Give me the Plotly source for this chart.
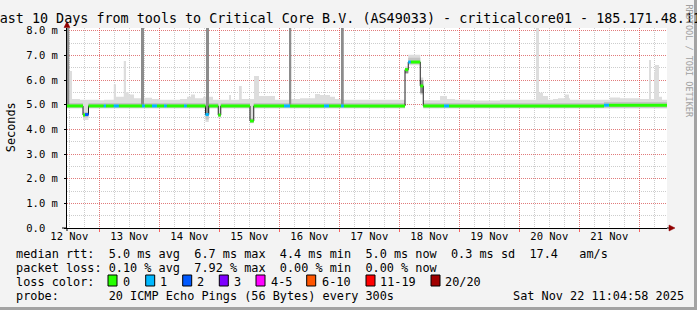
import plotly.graph_objects as go
from datetime import datetime, timedelta
from bisect import bisect_right

# ---------------- data ----------------
START = datetime(2025, 11, 12, 11, 4, 58)
SPAN_H = 240.0  # last 10 days

# median rtt (ms), step series: start hour of each run -> value
median_hours = [0.0, 6.4, 7.2, 8.6, 55.4, 56.7, 60.5, 61.5, 73.2, 74.7,
                135.2, 136.5, 141.3, 142.5, 214.8]
median_ms = [4.95, 4.58, 4.60, 4.95, 4.60, 4.95, 4.58, 4.95, 4.34, 4.95,
             6.42, 6.73, 5.76, 4.95, 4.98]

# lost pings (of 20)
loss_hours = [0.0, 7.2, 8.6, 14.7, 15.6, 18.7, 20.7, 30.0, 31.1, 34.0, 36.0,
              38.8, 39.9, 46.8, 47.9, 55.4, 56.7, 86.8, 89.2, 102.8, 104.8,
              109.6, 110.7, 136.5, 137.5, 150.8, 152.8, 214.8, 216.8]
loss_pings = [0, 2, 0, 1, 0, 1, 0, 1, 0, 1, 0,
              1, 0, 1, 0, 1, 0, 1, 0, 1, 0,
              1, 0, 1, 0, 1, 0, 1, 0]

# outer smoke (light)
light_lo_hours = [0.0, 6.4, 8.6, 55.4, 56.7, 60.5, 61.5, 73.2, 74.7,
                  135.2, 136.5, 141.3, 142.5]
light_lo_ms = [4.85, 4.38, 4.85, 4.30, 4.85, 4.45, 4.85, 4.25, 4.85,
               6.25, 6.60, 5.40, 4.85]
light_hi_hours = [0.0, 2.0, 5.2, 13.2, 14.8, 18.7, 19.6, 22.7, 23.6, 24.7,
                  26.8, 30.8, 34.0, 37.2, 45.2, 48.0, 49.6, 51.2, 54.4, 55.6,
                  56.8, 58.4, 64.8, 65.6, 68.8, 69.9, 74.8, 76.8, 83.2, 89.7,
                  93.2, 99.2, 101.2, 105.2, 107.2, 110.8, 135.2, 136.5, 141.3,
                  142.5, 149.2, 152.0, 155.2, 161.2, 173.2, 187.6, 188.8, 190.4,
                  192.4, 194.4, 196.4, 199.2, 200.8, 201.2, 217.2, 221.2, 229.2,
                  232.8, 233.6, 234.8, 235.2, 236.8, 238.0]
light_hi_ms = [6.37, 5.23, 5.20, 5.18, 5.20, 5.83, 5.32, 6.77, 5.50, 5.41,
               5.26, 5.28, 5.23, 5.20, 5.23, 5.32, 5.41, 5.26, 5.32, 5.26,
               5.32, 5.20, 5.39, 5.20, 5.76, 5.23, 6.16, 5.35, 5.20, 5.23,
               5.26, 5.43, 5.39, 5.32, 5.23, 5.20, 6.55, 7.03, 6.10,
               5.18, 5.35, 5.23, 5.20, 5.17, 5.20, 8.20, 5.48, 5.35,
               5.20, 5.23, 5.26, 5.41, 5.26, 5.20, 5.29, 5.26, 5.23,
               6.81, 5.23, 6.34, 6.61, 5.32, 5.20]

# inner smoke (mid)
mid_lo_hours = [0.0, 6.4, 8.6, 55.4, 56.7, 60.5, 61.5, 73.2, 74.7,
                135.2, 136.5, 141.3, 142.5]
mid_lo_ms = [4.88, 4.48, 4.88, 4.40, 4.88, 4.50, 4.88, 4.28, 4.88,
             6.30, 6.66, 5.50, 4.88]
mid_hi_hours = [0.0, 6.4, 8.6, 55.4, 56.7, 60.5, 61.5, 73.2, 74.7,
                135.2, 136.5, 141.3, 142.5, 214.8]
mid_hi_ms = [5.07, 4.70, 5.07, 4.72, 5.07, 4.65, 5.07, 4.45, 5.07,
             6.47, 6.90, 6.00, 5.07, 5.11]

# dense smoke bursts
dark_start_h = [0.0, 29.6, 55.6, 88.8, 109.6, 135.2, 141.3]
dark_end_h = [0.9, 30.8, 56.8, 89.7, 110.7, 136.5, 142.5]
dark_lo_ms = [5.00, 5.00, 4.62, 5.00, 5.00, 6.28, 5.46]
dark_hi_ms = [8.20, 8.20, 8.20, 8.20, 8.20, 6.47, 6.00]

day_numbers = [12, 13, 14, 15, 16, 17, 18, 19, 20, 21]
day_labels = ["12 Nov", "13 Nov", "14 Nov", "15 Nov", "16 Nov",
              "17 Nov", "18 Nov", "19 Nov", "20 Nov", "21 Nov"]
y_ticks = [0, 1, 2, 3, 4, 5, 6, 7, 8]
y_tick_labels = ["0.0\u00a0\u00a0", "1.0 m", "2.0 m", "3.0 m", "4.0 m",
                 "5.0 m", "6.0 m", "7.0 m", "8.0 m"]

loss_labels = ["0", "1", "2", "3", "4-5", "6-10", "11-19", "20/20"]
loss_upper = [0, 1, 2, 3, 5, 10, 19, 20]
loss_colors = ["#26ff00", "#00b8ff", "#0059ff", "#7e00ff",
               "#ff00ff", "#ff5500", "#ff0000", "#a00000"]

rtt_avg, rtt_max, rtt_min, rtt_now, rtt_sd, am_s = 5.0, 6.7, 4.4, 5.0, 0.3, 17.4
loss_avg, loss_max, loss_min, loss_now = 0.10, 7.92, 0.00, 0.00
title_text = "Last 10 Days from tools to Critical Core B.V. (AS49033) - criticalcore01 - 185.171.48.11"
probe_text = "20 ICMP Echo Pings (56 Bytes) every 300s"
stamp_text = "Sat Nov 22 11:04:58 2025"

# ---------------- helpers ----------------
MONO = "DejaVu Sans Mono"
L, R, T_, B = 67, 30, 28, 82
W, H = 697, 310
PW, PH = W - L - R, H - T_ - B


def px(x):
    return (x - L) / PW


def py(y):
    return (T_ + PH - y) / PH


def tt(h):
    return START + timedelta(hours=h)


def step_at(hours, vals, t):
    i = bisect_right(hours, t + 1e-9) - 1
    return vals[max(i, 0)]


def nb(s):
    return s.replace(" ", "\u00a0")


grid = sorted(set(median_hours + loss_hours + light_lo_hours + light_hi_hours +
                  mid_lo_hours + mid_hi_hours + [SPAN_H]))
gx = [tt(h) for h in grid]

fig = go.Figure()


def band(lo_h, lo_v, hi_h, hi_v, color):
    lo = [step_at(lo_h, lo_v, h) for h in grid]
    hi = [step_at(hi_h, hi_v, h) for h in grid]
    fig.add_trace(go.Scatter(x=gx, y=lo, mode="lines", line=dict(width=0, shape="hv"),
                             hoverinfo="skip", showlegend=False))
    fig.add_trace(go.Scatter(x=gx, y=hi, mode="lines", line=dict(width=0, shape="hv"),
                             fill="tonexty", fillcolor=color,
                             hoverinfo="skip", showlegend=False))


band(light_lo_hours, light_lo_ms, light_hi_hours, light_hi_ms, "#dddddd")
band(mid_lo_hours, mid_lo_ms, mid_hi_hours, mid_hi_ms, "#c4c4c4")

# dark bursts
dx, dy = [], []
for s, e, lo, hi in zip(dark_start_h, dark_end_h, dark_lo_ms, dark_hi_ms):
    dx += [tt(s), tt(e), tt(e), tt(s), tt(s), None]
    dy += [lo, lo, hi, hi, lo, None]
fig.add_trace(go.Scatter(x=dx, y=dy, mode="lines", line=dict(width=0),
                         fill="toself", fillcolor="#8c8c8c",
                         hoverinfo="skip", showlegend=False))

# thin median line
med = [step_at(median_hours, median_ms, h) for h in grid]
fig.add_trace(go.Scatter(x=gx, y=med, mode="lines",
                         line=dict(width=1, color="#202020", shape="hv"),
                         hoverinfo="skip", showlegend=False))


# coloured median by loss
def loss_cat(n):
    for i, u in enumerate(loss_upper):
        if n <= u:
            return i
    return len(loss_upper) - 1


segs = {i: ([], []) for i in range(len(loss_upper))}
i = 0
while i < len(grid) - 1:
    c = loss_cat(step_at(loss_hours, loss_pings, grid[i]))
    m = step_at(median_hours, median_ms, grid[i])
    j = i + 1
    while j < len(grid) - 1 and loss_cat(step_at(loss_hours, loss_pings, grid[j])) == c \
            and step_at(median_hours, median_ms, grid[j]) == m:
        j += 1
    segs[c][0].extend([tt(grid[i]), tt(grid[j]), None])
    segs[c][1].extend([m, m, None])
    i = j
for c, (sx, sy) in segs.items():
    if sx:
        fig.add_trace(go.Scatter(x=sx, y=sy, mode="lines",
                                 line=dict(width=3, color=loss_colors[c]),
                                 hoverinfo="skip", showlegend=False))

# ---------------- axes ----------------
noons = [datetime(2025, 11, d, 12) for d in day_numbers]
midnights = [datetime(2025, 11, d, 0) + timedelta(days=1) for d in day_numbers]
RED_GRID = "rgba(255,0,0,0.40)"
GREY_GRID = "#cdcdcd"

fig.update_layout(
    width=W, height=H,
    margin=dict(l=L, r=R, t=T_, b=B, pad=0),
    paper_bgcolor="#f3f3f3", plot_bgcolor="#ffffff",
    showlegend=False,
    title=dict(text=nb(title_text), xref="container", yref="container",
               x=346.3 / W, xanchor="center", y=1 - 18.5 / H, yanchor="middle",
               font=dict(family=MONO, size=13.4, color="#000000")),
    xaxis=dict(type="date", range=[tt(0), tt(SPAN_H)], tickmode="array",
               tickvals=midnights, showticklabels=False,
               showgrid=True, gridcolor=RED_GRID, griddash="1px,1px", gridwidth=1,
               ticks="outside", ticklen=3, tickcolor="rgba(255,0,0,0.6)",
               showline=True, linecolor="#000000", linewidth=1, zeroline=False,
               minor=dict(dtick=6 * 3600 * 1000, tick0="2025-11-12 00:00:00",
                          showgrid=True, gridcolor=GREY_GRID, griddash="1px,1px",
                          gridwidth=1, ticks="")),
    xaxis2=dict(type="date", range=[tt(0), tt(SPAN_H)], overlaying="x", anchor="y",
                side="bottom", tickmode="array", tickvals=noons, ticktext=day_labels,
                showgrid=False, ticks="", showline=False, zeroline=False,
                tickfont=dict(family=MONO, size=10.5, color="#000000")),
    yaxis=dict(range=[0, 8.11], tickmode="array", tickvals=y_ticks, ticktext=y_tick_labels,
               showgrid=True, gridcolor=RED_GRID, griddash="1px,1px", gridwidth=1,
               ticks="outside", ticklen=2, tickcolor="#000000",
               showline=True, linecolor="#000000", linewidth=1, zeroline=False,
               ticklabelstandoff=4,
               tickfont=dict(family=MONO, size=10.5, color="#000000"),
               minor=dict(dtick=0.5, tick0=0, showgrid=True, gridcolor=GREY_GRID,
                          griddash="1px,1px", gridwidth=1, ticks="")),
)
# keep xaxis2 drawn
fig.add_trace(go.Scatter(x=[tt(0)], y=[None], xaxis="x2", yaxis="y",
                         hoverinfo="skip", showlegend=False))

# ---------------- decorations ----------------
shapes = []
# frame shading right/bottom
shapes.append(dict(type="rect", xref="paper", yref="paper", x0=px(694), x1=px(698),
                   y0=py(311), y1=py(-1), fillcolor="#a3a3a3", line=dict(width=0)))
shapes.append(dict(type="rect", xref="paper", yref="paper", x0=px(-1), x1=px(698),
                   y0=py(311), y1=py(307), fillcolor="#a3a3a3", line=dict(width=0)))
# axis extensions and arrows
shapes.append(dict(type="line", xref="paper", yref="paper", x0=px(667), x1=px(670),
                   y0=py(228), y1=py(228), line=dict(color="#000000", width=1)))
shapes.append(dict(type="line", xref="paper", yref="paper", x0=px(62), x1=px(67),
                   y0=py(228), y1=py(228), line=dict(color="#000000", width=1)))
shapes.append(dict(type="line", xref="paper", yref="paper", x0=px(67), x1=px(67),
                   y0=py(228), y1=py(231), line=dict(color="#000000", width=1)))
shapes.append(dict(type="path", xref="paper", yref="paper",
                   path=f"M {px(669)} {py(225)} L {px(675)} {py(228)} L {px(669)} {py(231)} Z",
                   fillcolor="#900000", line=dict(color="#900000", width=0.5)))
shapes.append(dict(type="path", xref="paper", yref="paper",
                   path=f"M {px(64)} {py(27.5)} L {px(67)} {py(21.5)} L {px(70)} {py(27.5)} Z",
                   fillcolor="#900000", line=dict(color="#900000", width=0.5)))

annotations = []


def txt(s, x, y, size=11.85, anchor="left", color="#000000", angle=0, family=MONO):
    annotations.append(dict(text=nb(s), xref="paper", yref="paper", x=px(x), y=py(y),
                            xanchor=anchor, yanchor="middle", showarrow=False,
                            textangle=angle, borderpad=0, borderwidth=0,
                            font=dict(family=family, size=size, color=color)))


txt("RRDTOOL / TOBI OETIKER", 688.5, 61, size=8.5, anchor="center", color="#a0a0a0", angle=90)
txt("Seconds", 10.7, 127.5, anchor="center", angle=-90)

row1 = (f"median rtt:  {rtt_avg:.1f} ms avg  {rtt_max:.1f} ms max  {rtt_min:.1f} ms min  "
        f"{rtt_now:.1f} ms now  {rtt_sd:.1f} ms sd  {am_s:.1f}   am/s")
row2 = (f"packet loss: {loss_avg:.2f} % avg  {loss_max:.2f} % max  "
        f"{loss_min:.2f} % min  {loss_now:.2f} % now")
row4 = f"probe:       {probe_text}"
txt(row1, 15.5, 254.3)
txt(row2, 15.5, 268.3)
txt("loss color:", 15.5, 282)
txt(row4, 15.5, 296)
txt(stamp_text, 513, 296)

box_left = [108, 145.7, 182.7, 219.3, 256, 306.7, 366, 431]
label_left = [122.5, 160.2, 196.8, 233.5, 270.5, 322.2, 380.2, 445.2]
for bl, ll, lab, col in zip(box_left, label_left, loss_labels, loss_colors):
    shapes.append(dict(type="rect", xref="paper", yref="paper", x0=px(bl), x1=px(bl + 9),
                       y0=py(286), y1=py(275), fillcolor=col,
                       line=dict(color="#000000", width=1)))
    txt(lab, ll, 282)

fig.update_layout(shapes=shapes, annotations=annotations)
fig.write_html("out.html")
